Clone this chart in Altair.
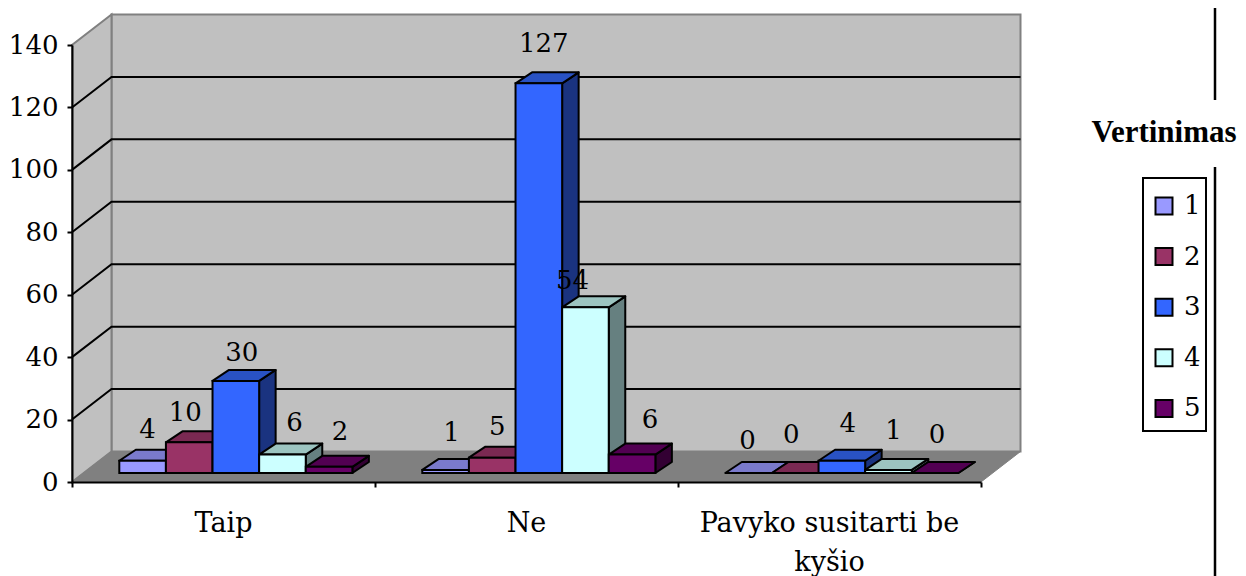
import altair as alt
import pandas as pd

categories = ["Taip", "Ne", "Pavyko susitarti be\nkyšio"]
series = ["1", "2", "3", "4", "5"]
values = {
    "1": [4, 1, 0],
    "2": [10, 5, 0],
    "3": [30, 127, 4],
    "4": [6, 54, 1],
    "5": [2, 6, 0],
}
# placement of the data labels, which the original set by hand (pixels, per series then group)
label_nudges = {
    "1": [(-1, 3), (0, 9), (-7, 4)],
    "2": [(-10, 1), (-1, 3), (-10, 10)],
    "3": [(0, 0), (-1, 11), (0, 9)],
    "4": [(6, 4), (-19, -2), (-1, 11)],
    "5": [(5, 7), (12, 7), (-4, 10)],
}
front_colors = ["#9999FF", "#993366", "#3366FF", "#CCFFFF", "#660066"]
top_colors = ["#7A7ACC", "#7A2952", "#2952C4", "#9CC4C0", "#520052"]
side_colors = ["#4D4D80", "#4D1A33", "#1A3380", "#668080", "#330033"]
y_ticks = [0, 20, 40, 60, 80, 100, 120, 140]

FONT = "DejaVu Serif"
PX_X = 303.0           # pixels per category
PX_Y = 437.0 / 140     # pixels per value unit
WALL_DX = 39.5 / PX_X
WALL_DY = 30.5 / PX_Y
BAR_W = 1 / 6.5
BAR_LEFT = 47.3 / PX_X
BAR_DX = 16.5 / PX_X
BAR_DY = 11 / PX_Y
BAR_BASE = 9 / PX_Y
BAR_SCALE = 0.983      # bars sit on a slightly foreshortened plane

xs = alt.Scale(domain=[0, 3], nice=False, zero=False)
ys = alt.Scale(domain=[0, 140], nice=False, zero=False)
x_axis = alt.Axis(
    values=[0, 1, 2, 3], labels=False, tickSize=5, tickWidth=2, tickColor="black",
    domainColor="black", domainWidth=2, grid=False, zindex=1, title=None)
y_axis = alt.Axis(
    values=y_ticks, tickSize=5, tickWidth=2, tickColor="black", domainColor="black",
    domainWidth=2, grid=False, labelFont=FONT, labelFontSize=26, labelColor="black",
    labelPadding=9, zindex=1, title=None)
X = lambda f: alt.X(f"{f}:Q", scale=xs, axis=x_axis)
Y = lambda f: alt.Y(f"{f}:Q", scale=ys, axis=y_axis)

front, tops, sides, labels = [], [], [], []
for g, cat in enumerate(categories):
    for i, s in enumerate(series):
        v = values[s][g]
        L = g + BAR_LEFT + i * BAR_W
        R = L + BAR_W
        top = BAR_BASE + v * BAR_SCALE
        front.append(dict(x=L, x2=R, y=BAR_BASE, y2=top, s=s))
        fid = f"{g}-{i}"
        tops += [
            dict(id=fid, y=top, x=L, x2=R, c=top_colors[i]),
            dict(id=fid, y=top + BAR_DY, x=L + BAR_DX, x2=R + BAR_DX, c=top_colors[i]),
        ]
        sides += [
            dict(id=fid, x=R, y=BAR_BASE, y2=top, c=side_colors[i]),
            dict(id=fid, x=R + BAR_DX, y=BAR_BASE + BAR_DY, y2=top + BAR_DY, c=side_colors[i]),
        ]
        ndx, ndy = label_nudges[s][g]
        labels.append(dict(
            x=(L + R) / 2 + (6 + ndx) / PX_X,
            y=top + BAR_DY + (9 + ndy) / PX_Y,
            t=str(v)))

back_wall = pd.DataFrame([
    dict(id="b", x=WALL_DX, x2=3 + WALL_DX, y=WALL_DY),
    dict(id="b", x=WALL_DX, x2=3 + WALL_DX, y=140 + WALL_DY),
])
floor = pd.DataFrame([
    dict(id="f", x=0, x2=3, y=0),
    dict(id="f", x=WALL_DX, x2=3 + WALL_DX, y=WALL_DY),
])
side_wall = pd.DataFrame([
    dict(id="s", x=0, y=0, y2=140),
    dict(id="s", x=WALL_DX, y=WALL_DY, y2=140 + WALL_DY),
])
grid = pd.DataFrame([
    row
    for t in y_ticks[1:-1]
    for row in (
        dict(t=t, o=0, x=0, y=t),
        dict(t=t, o=1, x=WALL_DX, y=t + WALL_DY),
        dict(t=t, o=2, x=3 + WALL_DX, y=t + WALL_DY),
    )
])

wall_style = dict(stroke="#808080", strokeWidth=2)
l_back = alt.Chart(back_wall).mark_area(orient="horizontal", fill="#C0C0C0", **wall_style).encode(
    x=X("x"), x2="x2", y=Y("y"))
l_side = alt.Chart(side_wall).mark_area(orient="vertical", fill="#C0C0C0", **wall_style).encode(
    x=X("x"), y=Y("y"), y2="y2")
l_floor = alt.Chart(floor).mark_area(orient="horizontal", fill="#808080", stroke="#808080").encode(
    x=X("x"), x2="x2", y=Y("y"))
l_grid = alt.Chart(grid).mark_line(color="black", strokeWidth=2).encode(
    x=X("x"), y=Y("y"), detail="t:N", order="o:Q")

l_sides = alt.Chart(pd.DataFrame(sides)).mark_area(
    orient="vertical", stroke="black", strokeWidth=2, strokeJoin="round").encode(
    x=X("x"), y=Y("y"), y2="y2", detail="id:N", fill=alt.Fill("c:N", scale=None))
l_tops = alt.Chart(pd.DataFrame(tops)).mark_area(
    orient="horizontal", stroke="black", strokeWidth=2, strokeJoin="round").encode(
    x=X("x"), x2="x2", y=Y("y"), detail="id:N", fill=alt.Fill("c:N", scale=None))
l_front = alt.Chart(pd.DataFrame(front)).mark_rect(stroke="black", strokeWidth=2).encode(
    x=X("x"), x2="x2", y=Y("y"), y2="y2",
    color=alt.Color("s:N", scale=alt.Scale(domain=series, range=front_colors), legend=alt.Legend(
        title=None, orient="none", legendX=1079, legendY=148, symbolType="square", symbolSize=289,
        symbolStrokeColor="black", symbolStrokeWidth=2, labelFont=FONT, labelFontSize=26,
        labelColor="black", labelOffset=7, rowPadding=24.6, padding=0)),
)
l_labels = alt.Chart(pd.DataFrame(labels)).mark_text(
    font=FONT, fontSize=26, color="black", baseline="alphabetic").encode(
    x=X("x"), y=Y("y"), text="t:N")

cat_df = pd.DataFrame({"x": [g + 0.5 for g in range(3)], "t": categories})
l_cats = alt.Chart(cat_df).mark_text(
    font=FONT, fontSize=27, color="black", baseline="alphabetic", lineBreak="\n", lineHeight=39,
).encode(x=X("x"), y=alt.value(487), text="t:N")

l_title = alt.Chart(pd.DataFrame({"t": ["Vertinimas"]})).mark_text(
    font="Liberation Serif", fontSize=31, fontWeight="bold", color="black", align="center",
    baseline="alphabetic").encode(x=alt.value(1092), y=alt.value(97), text="t:N")

rule_base = alt.Chart(pd.DataFrame({"k": [0]})).mark_rule(color="black", strokeWidth=2.5)
l_rule_top = rule_base.encode(x=alt.value(1143), y=alt.value(-40), y2=alt.value(55))
l_rule_low = rule_base.encode(x=alt.value(1143), y=alt.value(122), y2=alt.value(531))
l_box = alt.Chart(pd.DataFrame({"k": [0]})).mark_rect(
    fill="white", stroke="black", strokeWidth=2).encode(
    x=alt.value(1071), x2=alt.value(1134), y=alt.value(133), y2=alt.value(386))

chart = alt.layer(
    l_back, l_side, l_floor, l_grid, l_sides, l_tops, l_front, l_labels, l_cats, l_title,
    l_rule_top, l_rule_low, l_box
).properties(
    width=909, height=437, autosize=alt.AutoSizeParams(type="none"),
    padding={"left": 64, "top": 37, "right": 257, "bottom": 94},
).configure_view(stroke=None)

chart.save("out.html", embed_options={"renderer": "svg", "actions": False})
